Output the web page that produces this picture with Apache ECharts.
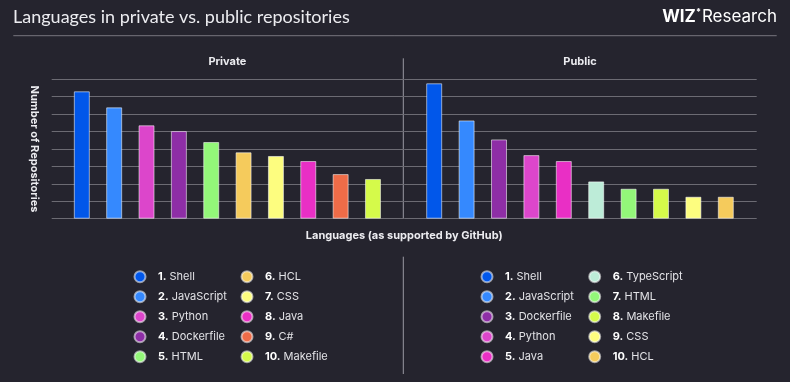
<!DOCTYPE html>
<html>
<head>
<meta charset="utf-8">
<script src="https://cdn.jsdelivr.net/npm/echarts@6/dist/echarts.min.js"></script>
<style>
html,body{margin:0;padding:0;background:#25242e;}
#c{width:790px;height:382px;}
</style>
</head>
<body>
<div id="c"></div>
<script>
// ---- data ----
var privateLangs = ['Shell','JavaScript','Python','Dockerfile','HTML','HCL','CSS','Java','C#','Makefile'];
var privateValues = [7.31, 6.39, 5.36, 5.03, 4.40, 3.81, 3.60, 3.31, 2.56, 2.28];
var publicLangs = ['Shell','JavaScript','Dockerfile','Python','Java','TypeScript','HTML','Makefile','CSS','HCL'];
var publicValues = [7.77, 5.64, 4.55, 3.65, 3.31, 2.14, 1.72, 1.72, 1.26, 1.26];
var langColors = {
  'Shell':'#0157ea','JavaScript':'#3589fe','Python':'#dc46cb','Dockerfile':'#8e2ea6',
  'HTML':'#93f779','HCL':'#f5cb5c','CSS':'#fdfd7f','Java':'#e92fc5','C#':'#ef6c48',
  'Makefile':'#d5fa4a','TypeScript':'#bdecd8'
};
var yTicks = [0,1,2,3,4,5,6,7,8];

var FONT = 'Inter';
var chart = echarts.init(document.getElementById('c'));

function seriesFor(prefix, langs, values, gridIdx) {
  return langs.map(function (lang, i) {
    return {
      name: prefix + ':' + (i + 1) + ':' + lang,
      type: 'bar',
      xAxisIndex: gridIdx, yAxisIndex: gridIdx,
      barWidth: 16,
      barGap: '-100%',
      itemStyle: { color: langColors[lang], borderColor: 'rgba(255,255,255,0.55)', borderWidth: 1 },
      emphasis: { disabled: true },
      data: values.map(function (v, j) { return j === i ? v : '-'; })
    };
  });
}

function legendFor(prefix, langs, from, to, left) {
  var data = [];
  for (var i = from; i < to; i++) data.push(prefix + ':' + (i + 1) + ':' + langs[i]);
  return {
    orient: 'vertical', left: left, top: 269.7, padding: 0,
    itemWidth: 26, itemHeight: 11, itemGap: 6, icon: 'circle',
    data: data,
    formatter: function (n) { var p = n.split(':'); return '{n|' + p[1] + '.} ' + p[2]; },
    textStyle: {
      color: '#e2e2e6', fontSize: 11, fontFamily: FONT, lineHeight: 14,
      rich: { n: { fontWeight: 'bold', color: '#ffffff', fontSize: 11, fontFamily: FONT, lineHeight: 14 } }
    }
  };
}

var series = seriesFor('priv', privateLangs, privateValues, 1)
  .concat(seriesFor('pub', publicLangs, publicValues, 2));

var option = {
  backgroundColor: '#25242e',
  animation: false,
  title: [
    { text: 'Languages in private vs. public repositories', left: 13, top: 8, padding: 0,
      textStyle: { color: '#ececf0', fontSize: 18, fontWeight: 'normal', fontFamily: 'Lato' } },
    { text: '{w|WIZ}{s|*}{r|Research}', right: 13, top: 8, padding: 0,
      textStyle: { rich: {
        w: { color: '#ffffff', fontSize: 17, fontWeight: 'bold', fontFamily: FONT },
        s: { color: '#ffffff', fontSize: 9, fontWeight: 'bold', fontFamily: FONT, verticalAlign: 'top', padding: [0, 1, 8, 0] },
        r: { color: '#ffffff', fontSize: 17, fontWeight: 'normal', fontFamily: FONT }
      } } },
    { text: 'Private', left: 227.4, top: 56, padding: 0, textAlign: 'center',
      textStyle: { color: '#ececf0', fontSize: 11, fontWeight: 'bold', fontFamily: FONT } },
    { text: 'Public', left: 580, top: 56, padding: 0, textAlign: 'center',
      textStyle: { color: '#ececf0', fontSize: 11, fontWeight: 'bold', fontFamily: FONT } }
  ],
  legend: [
    legendFor('priv', privateLangs, 0, 5, 133.5),
    legendFor('priv', privateLangs, 5, 10, 240.5),
    legendFor('pub', publicLangs, 0, 5, 480.5),
    legendFor('pub', publicLangs, 5, 10, 588.2)
  ],
  grid: [
    { left: 51.7, right: 33.3, top: 79.3, bottom: 163.3 },
    { left: 65.65, right: 400.85, top: 79.3, bottom: 163.3 },
    { left: 418, right: 48, top: 79.3, bottom: 163.3 }
  ],
  xAxis: [
    { gridIndex: 0, type: 'category', data: ['a'], axisLine: { show: false }, axisTick: { show: false },
      axisLabel: { show: false }, splitLine: { show: false },
      name: 'Languages (as supported by GitHub)', nameLocation: 'middle', nameGap: 11,
      nameTextStyle: { color: '#ececf0', fontSize: 11, fontWeight: 'bold', fontFamily: FONT } },
    { gridIndex: 1, type: 'category', data: privateLangs, show: false },
    { gridIndex: 2, type: 'category', data: publicLangs, show: false }
  ],
  yAxis: [
    { gridIndex: 0, type: 'value', min: yTicks[0], max: yTicks[yTicks.length - 1], interval: 1,
      axisLine: { show: false }, axisTick: { show: false }, axisLabel: { show: false },
      splitLine: { lineStyle: { color: '#6c6b73', width: 1 } },
      name: 'Number of Repositories', nameLocation: 'middle', nameRotate: -90, nameGap: 12,
      nameTextStyle: { color: '#ececf0', fontSize: 11, fontWeight: 'bold', fontFamily: FONT } },
    { gridIndex: 1, type: 'value', min: 0, max: 8, show: false, splitLine: { show: false } },
    { gridIndex: 2, type: 'value', min: 0, max: 8, show: false, splitLine: { show: false } }
  ],
  graphic: [
    { type: 'line', shape: { x1: 13.3, y1: 35.7, x2: 776.7, y2: 35.7 }, style: { stroke: '#77767e', lineWidth: 1 }, silent: true },
    { type: 'line', shape: { x1: 403.3, y1: 58.3, x2: 403.3, y2: 218.7 }, style: { stroke: '#9a99a3', lineWidth: 1 }, silent: true },
    { type: 'line', shape: { x1: 403.3, y1: 256.7, x2: 403.3, y2: 374 }, style: { stroke: '#9a99a3', lineWidth: 1 }, silent: true }
  ],
  series: series
};
chart.setOption(option);
</script>
</body>
</html>
